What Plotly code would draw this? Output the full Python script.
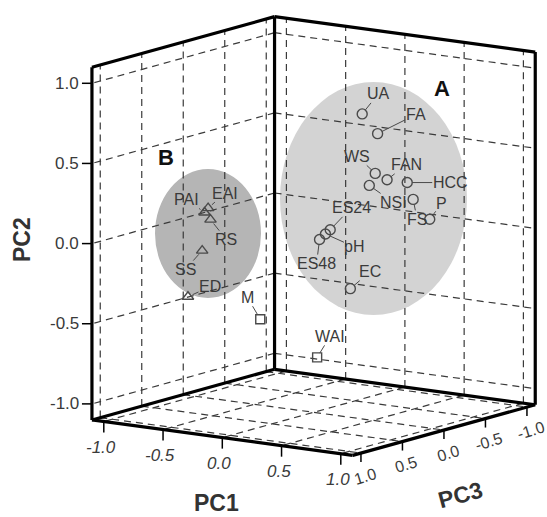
import numpy as np
import plotly.graph_objects as go

# Component loadings (PC1, PC2, PC3) of each variable
group_a = ["UA", "FA", "WS", "FAN", "NSI", "HCC", "FS", "P", "ES24", "pH", "ES48", "EC"]
pc1_a = [0.27, 0.40, 0.38, 0.48, 0.33, 0.65, 0.70, 0.84, 0.00, -0.04, -0.09, 0.17]
pc2_a = [0.76, 0.65, 0.40, 0.37, 0.32, 0.37, 0.27, 0.16, 0.01, -0.02, -0.06, -0.34]
pc3_a = [-0.20, -0.20, -0.20, -0.20, -0.20, -0.20, -0.20, -0.20, -0.20, -0.20, -0.20, -0.20]

group_b = ["PAI", "EAI", "RS", "SS", "ED"]
pc1_b = [-0.64, -0.61, -0.59, -0.66, -0.78]
pc2_b = [0.14, 0.17, 0.10, -0.10, -0.40]
pc3_b = [0.40, 0.40, 0.40, 0.40, 0.40]

others = ["M", "WAI"]
pc1_o = [-0.24, 0.24]
pc2_o = [-0.50, -0.69]
pc3_o = [0.30, 0.30]

tick_values = [-1.0, -0.5, 0.0, 0.5, 1.0]
tick_labels = ["-1.0", "-0.5", "0.0", "0.5", "1.0"]

# ---- oblique projection of the PC cube onto the page -----------------------
W, H = 547, 517
LIM = 1.1                      # each axis spans -1.1 .. 1.1
ORIGIN = (313.6, 236.0)        # where (0, 0, 0) lands
E1 = (118.5, 16.1)             # one unit of PC1
E2 = (0.0, -160.3)             # one unit of PC2
E3 = (-83.0, 23.0)             # one unit of PC3


def proj(p1, p2, p3):
    p1, p2, p3 = (np.asarray(v, dtype=float) for v in (p1, p2, p3))
    x = ORIGIN[0] + E1[0] * p1 + E2[0] * p2 + E3[0] * p3
    y = ORIGIN[1] + E1[1] * p1 + E2[1] * p2 + E3[1] * p3
    return x, y


def segments_trace(segs, color, width, dash=None):
    xs, ys = [], []
    for a, b in segs:
        x, y = proj(*zip(a, b))
        xs += list(x) + [None]
        ys += list(y) + [None]
    return go.Scatter(x=xs, y=ys, mode="lines", hoverinfo="skip", showlegend=False,
                      line=dict(color=color, width=width, dash=dash))


fig = go.Figure()

# shaded group ellipses
fig.add_shape(type="circle", xref="x", yref="y", x0=280, x1=467, y0=82, y1=315,
              fillcolor="#d3d3d3", line=dict(width=0), layer="below")
fig.add_shape(type="circle", xref="x", yref="y", x0=155, x1=261, y0=169, y1=298,
              fillcolor="#b5b5b5", line=dict(width=0), layer="below")

# dashed grid on the two back walls and the floor
L = LIM
grid = []
for t in tick_values:
    grid.append(((-L, -L, t), (-L, L, t)))      # left wall, verticals
    grid.append(((-L, t, -L), (-L, t, L)))      # left wall, horizontals
    grid.append(((t, -L, -L), (t, L, -L)))      # right wall, verticals
    grid.append(((-L, t, -L), (L, t, -L)))      # right wall, horizontals
    grid.append(((t, -L, -L), (t, -L, L)))      # floor, along PC3
    grid.append(((-L, -L, t), (L, -L, t)))      # floor, along PC1
fig.add_trace(segments_trace(grid, "#3a3a3a", 1.2, dash="7px,5px"))

# heavy frame
TL, TB, TR = (-L, L, L), (-L, L, -L), (L, L, -L)
BL, BB, BR, FR = (-L, -L, L), (-L, -L, -L), (L, -L, -L), (L, -L, L)
frame = [(TL, TB), (TB, TR), (TL, BL), (TB, BB), (TR, BR),
         (BL, BB), (BB, BR), (BL, FR), (FR, BR)]
fig.add_trace(segments_trace(frame, "#000000", 3.2))

# tick marks and tick labels
tick_font = dict(family="Arial", size=17, color="#3a3a3a")
pc3_font = dict(family="Arial", size=16, color="#3a3a3a")
sx, sy = [], []
for v, lab in zip(tick_values, tick_labels):
    # PC2 on the left edge
    x, y = proj(-L, v, L)
    sx += [x - 10, x, None]
    sy += [y, y, None]
    fig.add_annotation(x=x - 11, y=y, text=lab, showarrow=False, xanchor="right",
                       yanchor="middle", font=tick_font)
    # PC1 along the front-left floor edge
    x, y = proj(v, -L, L)
    sx += [x, x, None]
    sy += [y, y + 11, None]
    fig.add_annotation(x=x - 3, y=y + 26, text="<i>" + lab + "</i>", showarrow=False,
                       xanchor="center", yanchor="middle", font=tick_font)
    # PC3 along the front-right floor edge
    x, y = proj(L, -L, v)
    sx += [x, x, None]
    sy += [y, y + 9, None]
    fig.add_annotation(x=x + 4, y=y + 23, text=lab, showarrow=False, textangle=-17,
                       xanchor="center", yanchor="middle", font=pc3_font)
fig.add_trace(go.Scatter(x=sx, y=sy, mode="lines", hoverinfo="skip", showlegend=False,
                         line=dict(color="#000000", width=1.5)))

# axis titles
title_font = dict(family="Arial", size=23, color="#333333")
fig.add_annotation(x=22, y=240, text="<b>PC2</b>", showarrow=False, textangle=-90,
                   font=title_font)
fig.add_annotation(x=216, y=503, text="<b>PC1</b>", showarrow=False, font=title_font)
fig.add_annotation(x=460, y=495, text="<b>PC3</b>", showarrow=False, textangle=-15,
                   font=title_font)

# group letters
group_font = dict(family="Arial", size=22, color="#111111")
fig.add_annotation(x=442, y=88, text="<b>A</b>", showarrow=False, font=group_font)
fig.add_annotation(x=166, y=157, text="<b>B</b>", showarrow=False, font=group_font)

# variables
marker_color = "#4a4a4a"
for names, p1, p2, p3, symbol, size in [
    (group_a, pc1_a, pc2_a, pc3_a, "circle-open", 10),
    (group_b, pc1_b, pc2_b, pc3_b, "triangle-up-open", 10),
    (others, pc1_o, pc2_o, pc3_o, "square-open", 9),
]:
    x, y = proj(p1, p2, p3)
    fig.add_trace(go.Scatter(x=x, y=y, mode="markers", text=names, showlegend=False,
                             marker=dict(symbol=symbol, size=size, color=marker_color,
                                         line=dict(width=1.4, color=marker_color))))

# label placement (pixel offset of each label from its point)
label_offsets = {
    "UA": (16, -20), "FA": (38, -19), "WS": (-18, -17), "FAN": (19, -15),
    "NSI": (24, 17), "HCC": (43, 0), "FS": (4, 20), "P": (12, -16),
    "ES24": (21, -22), "pH": (29, 13), "ES48": (-3, 24), "EC": (20, -17),
    "PAI": (-18, -13), "EAI": (17, -15), "RS": (16, 20), "SS": (-17, 19),
    "ED": (22, -10), "M": (-13, -22), "WAI": (13, -21),
}
label_font = dict(family="Arial", size=16, color="#3a3a3a")
for names, p1, p2, p3 in [(group_a, pc1_a, pc2_a, pc3_a),
                          (group_b, pc1_b, pc2_b, pc3_b),
                          (others, pc1_o, pc2_o, pc3_o)]:
    xs, ys = proj(p1, p2, p3)
    for n, x, y in zip(names, xs, ys):
        dx, dy = label_offsets[n]
        fig.add_annotation(x=float(x), y=float(y), text=n, showarrow=True, arrowhead=0,
                           arrowwidth=1, arrowcolor=marker_color, ax=dx, ay=dy,
                           standoff=5, borderpad=0, font=label_font)

fig.update_layout(
    width=W, height=H, margin=dict(l=0, r=0, t=0, b=0),
    paper_bgcolor="white", plot_bgcolor="white",
    xaxis=dict(range=[0, W], visible=False, fixedrange=True),
    yaxis=dict(range=[H, 0], visible=False, fixedrange=True),
    showlegend=False,
)

fig.write_html("out.html")
